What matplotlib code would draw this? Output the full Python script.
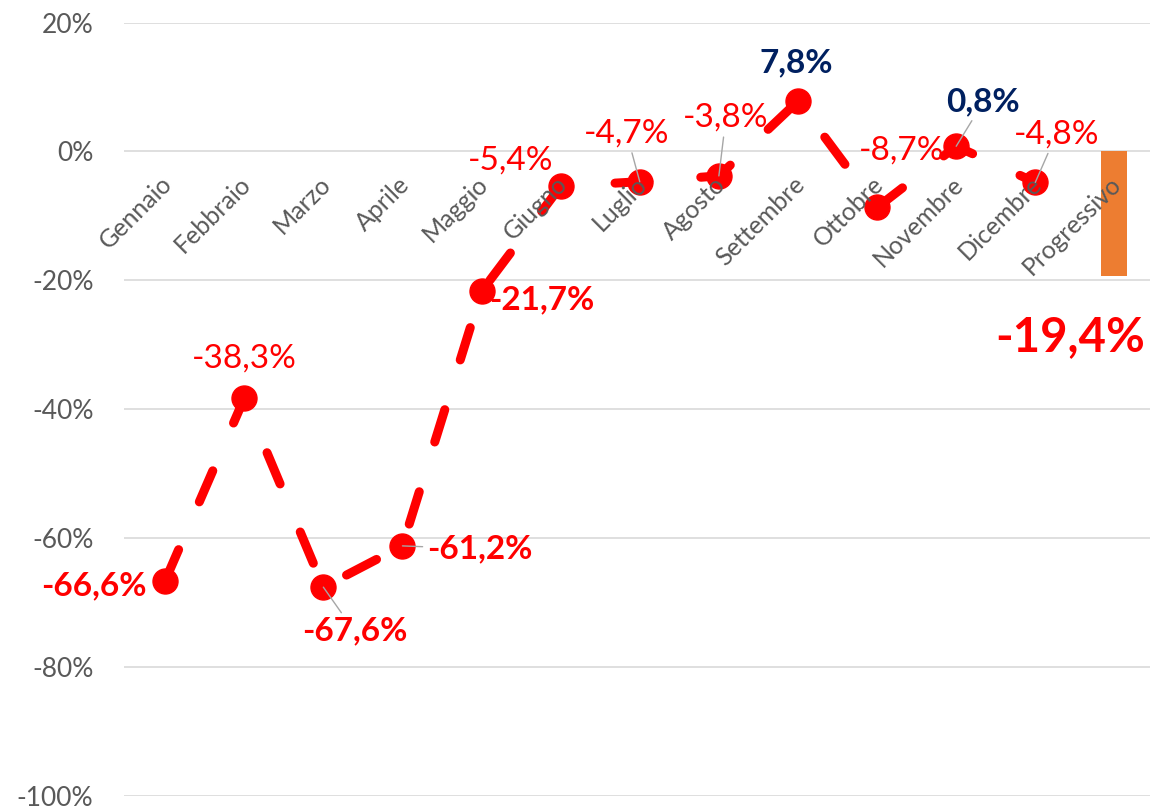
import matplotlib
matplotlib.use("Agg")
import matplotlib.pyplot as plt
import matplotlib.transforms as mtransforms
from matplotlib.ticker import FuncFormatter, MultipleLocator

plt.rcParams['font.family'] = ['Lato', 'DejaVu Sans']

months = ["Gennaio", "Febbraio", "Marzo", "Aprile", "Maggio", "Giugno", "Luglio",
          "Agosto", "Settembre", "Ottobre", "Novembre", "Dicembre"]
values = [-66.6, -38.3, -67.6, -61.2, -21.7, -5.4, -4.7, -3.8, 7.8, -8.7, 0.8, -4.8]
total_label = "Progressivo"
total_value = -19.4

# label offsets (pixels), weight and whether a leader line is drawn
label_offsets = [(-71, -5), (0, 40), (31, -44), (77, -3), (60, -9), (-50, 26),
                 (-13, 48), (7, 58), (-2, 38), (25, 57), (27, 44), (21, 48)]
label_bold = [True, False, True, True, True, False, False, False, True, False, True, False]
label_leader = [False, False, True, True, False, False, True, True, False, False, True, True]

RED = "#FF0000"
NAVY = "#002060"
GRAY = "#595959"


def fmt(v):
    return f"{v:.1f}".replace(".", ",") + "%"


fig = plt.figure(figsize=(11.5, 8.09), dpi=100)
ax = fig.add_axes([124 / 1150, 13 / 809, 1026 / 1150, 773.5 / 809])

x = list(range(len(months)))
ax.plot(x, values, color=RED, lw=6.5, dashes=(3.75, 5.77),
        dash_capstyle='round', zorder=3)
ax.plot(x, values, 'o', color=RED, markersize=18, zorder=4)

ax.bar(len(months), total_value, width=0.33, color="#ED7D31", zorder=3)

for i, v in enumerate(values):
    col = NAVY if v > 0 else RED
    arrow = dict(arrowstyle='-', color='#A6A6A6', lw=1, shrinkA=1, shrinkB=0) if label_leader[i] else None
    ax.annotate(fmt(v), (x[i], v), xytext=label_offsets[i], textcoords='offset pixels',
                ha='center', va='center', fontsize=24, color=col,
                fontweight='bold' if label_bold[i] else 'normal',
                arrowprops=arrow, zorder=6)

ax.annotate(fmt(total_value), (len(months), total_value), xytext=(-44, -61),
            textcoords='offset pixels', ha='center', va='center', fontsize=34,
            color=RED, fontweight='bold', zorder=6)

ax.set_ylim(-100, 20)
ax.set_xlim(-0.52, 12.45)
ax.yaxis.set_major_locator(MultipleLocator(20))
ax.yaxis.set_major_formatter(FuncFormatter(lambda v, p: f"{v:.0f}%"))
ax.yaxis.grid(True, color="#D9D9D9", lw=1.2)
ax.set_axisbelow(True)

for s in ax.spines.values():
    s.set_visible(False)
ax.spines['bottom'].set_position(('data', 0))

ax.set_xticks(x + [len(months)])
ax.set_xticklabels(months + [total_label], rotation=45, ha='right',
                   rotation_mode='anchor', fontsize=18, color=GRAY)
ax.tick_params(axis='x', length=0, pad=15)
ax.tick_params(axis='y', length=0, pad=22, labelsize=19, labelcolor=GRAY)
ax.xaxis.set_zorder(5)
shift = mtransforms.ScaledTranslation(-5 / 100, 0, fig.dpi_scale_trans)
for lab in ax.get_xticklabels():
    lab.set_transform(lab.get_transform() + shift)

fig.savefig("out.png", dpi=100)
